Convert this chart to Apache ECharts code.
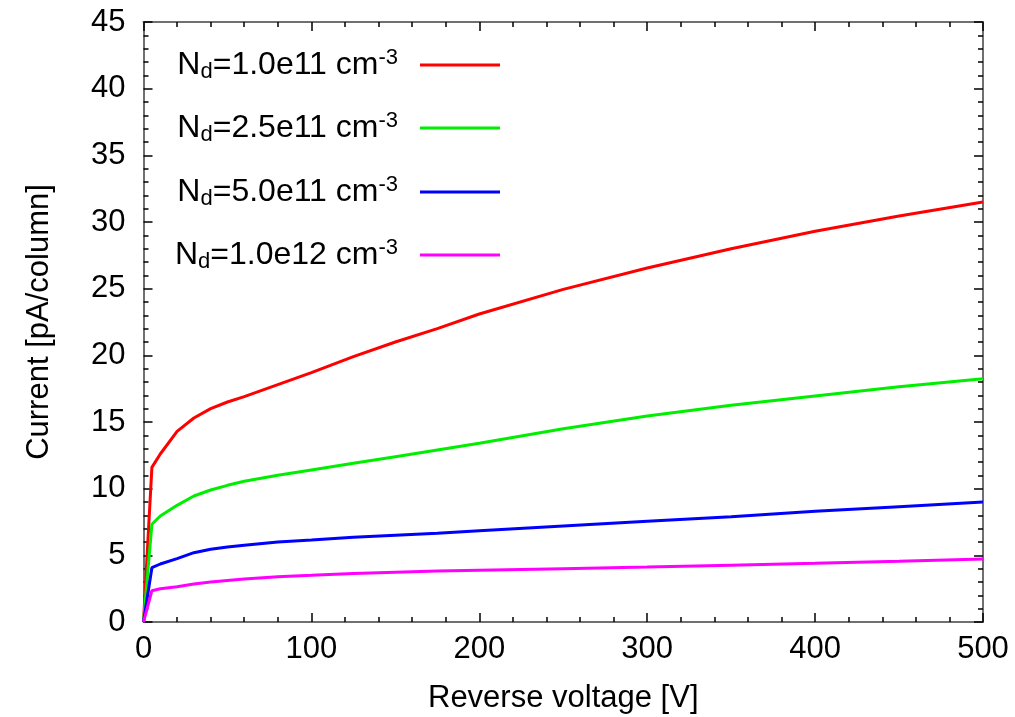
<!DOCTYPE html>
<html>
<head>
<meta charset="utf-8">
<script src="https://cdn.jsdelivr.net/npm/echarts@6/dist/echarts.min.js"></script>
<style>
html,body{margin:0;padding:0;background:#fff;}
#chart{width:1015px;height:717px;}
</style>
</head>
<body>
<div id="chart"></div>
<script>
// Reverse voltage [V]
const voltages = [0, 5, 10, 20, 30, 40, 50, 60, 80, 100, 125, 150, 175, 200, 250, 300, 350, 400, 450, 500];
// Current [pA/column]
const nd1e11   = [0, 11.6, 12.6, 14.3, 15.3, 16.0, 16.5, 16.9, 17.8, 18.7, 19.9, 21.0, 22.0, 23.1, 24.95, 26.55, 28.0, 29.3, 30.45, 31.5];
const nd25e11  = [0, 7.33, 7.95, 8.75, 9.45, 9.9, 10.25, 10.55, 11.0, 11.4, 11.9, 12.4, 12.9, 13.4, 14.5, 15.45, 16.25, 16.95, 17.65, 18.25];
const nd5e11   = [0, 4.07, 4.35, 4.75, 5.2, 5.45, 5.62, 5.75, 6.0, 6.15, 6.35, 6.5, 6.65, 6.85, 7.2, 7.55, 7.9, 8.3, 8.65, 9.0];
const nd1e12   = [0, 2.35, 2.5, 2.65, 2.85, 3.0, 3.12, 3.22, 3.4, 3.5, 3.63, 3.74, 3.82, 3.88, 4.0, 4.12, 4.26, 4.4, 4.55, 4.73];
const seriesValues = [nd1e11, nd25e11, nd5e11, nd1e12];
const densities = ['1.0e11', '2.5e11', '5.0e11', '1.0e12'];
const seriesNames = densities.map(d => 'Nd=' + d + ' cm-3');
const colors = ['#ff0000', '#00ee00', '#0000ff', '#ff00ff'];
const xTicks = [0, 100, 200, 300, 400, 500];
const yTicks = [0, 5, 10, 15, 20, 25, 30, 35, 40, 45];

const FONT = '"Liberation Sans", Arial, Helvetica, sans-serif';
const chart = echarts.init(document.getElementById('chart'), null, {renderer: 'canvas'});

const tickStyle = {show: true, inside: true, length: 9, lineStyle: {color: '#000', width: 1.5}};
const minorStyle = {show: true, splitNumber: 5, length: 5, lineStyle: {color: '#000', width: 1.5}};
const lineStyle = {show: true, onZero: false, lineStyle: {color: '#707070', width: 2}};

function xAx(pos, labels) {
  return {
    type: 'value', position: pos, min: xTicks[0], max: xTicks[xTicks.length - 1], interval: 100,
    axisLine: lineStyle, axisTick: tickStyle, minorTick: minorStyle,
    splitLine: {show: false}, minorSplitLine: {show: false},
    axisLabel: {show: labels, margin: 12, fontFamily: FONT, fontSize: 31, color: '#000'},
    name: labels ? 'Reverse voltage [V]' : '', nameLocation: 'middle', nameGap: 61,
    nameTextStyle: {fontFamily: FONT, fontSize: 31, color: '#000'}
  };
}
function yAx(pos, labels) {
  return {
    type: 'value', position: pos, min: yTicks[0], max: yTicks[yTicks.length - 1], interval: 5,
    axisLine: lineStyle, axisTick: tickStyle, minorTick: minorStyle,
    splitLine: {show: false}, minorSplitLine: {show: false},
    axisLabel: {show: labels, margin: 18, fontFamily: FONT, fontSize: 31, color: '#000'},
    name: labels ? 'Current [pA/column]' : '', nameLocation: 'middle', nameGap: 89,
    nameTextStyle: {fontFamily: FONT, fontSize: 31, color: '#000'}
  };
}

const legendTops = [47, 110, 174, 237];
const legends = seriesNames.map((name, i) => ({
  data: [name],
  right: 515, top: legendTops[i], padding: 0,
  orient: 'vertical', align: 'right',
  icon: 'rect', itemWidth: 80, itemHeight: 3,
  selectedMode: false,
  formatter: () => '{n|N}{sub|d}{n|=' + densities[i] + ' cm}{sup|-3}',
  textStyle: {
    color: '#000',
    rich: {
      n: {fontFamily: FONT, fontSize: 32, lineHeight: 36, color: '#000'},
      sub: {fontFamily: FONT, fontSize: 22, lineHeight: 12, verticalAlign: 'bottom', color: '#000'},
      sup: {fontFamily: FONT, fontSize: 22, lineHeight: 14, verticalAlign: 'top', color: '#000', padding: [0, 17, 0, 0]}
    }
  }
}));

const option = {
  backgroundColor: '#fff',
  animation: false,
  grid: {left: 143.5, right: 32, top: 22, bottom: 95, containLabel: false, outerBoundsMode: 'none'},
  xAxis: [xAx('bottom', true), xAx('top', false)],
  yAxis: [yAx('left', true), yAx('right', false)],
  legend: legends,
  series: seriesValues.map((vals, i) => ({
    name: seriesNames[i], type: 'line',
    xAxisIndex: 0, yAxisIndex: 0,
    data: voltages.map((v, j) => [v, vals[j]]),
    symbol: 'none', smooth: false,
    lineStyle: {color: colors[i], width: 3},
    itemStyle: {color: colors[i]}
  }))
};
chart.setOption(option);
</script>
</body>
</html>
